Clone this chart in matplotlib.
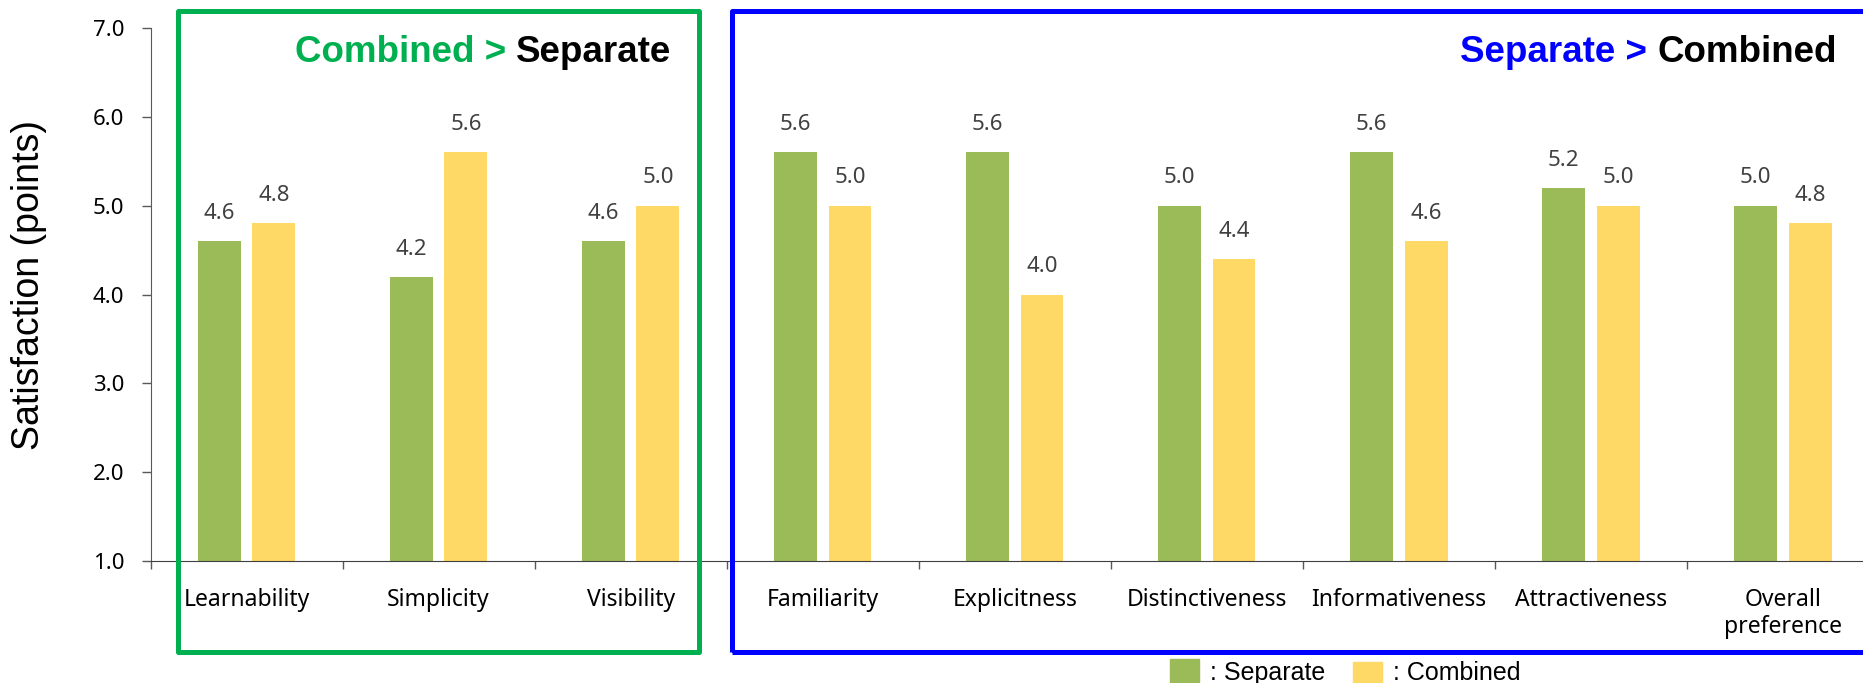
import numpy as np
import matplotlib
matplotlib.use("Agg")
import matplotlib.pyplot as plt
from matplotlib.patches import Rectangle

# data
categories = ["Learnability", "Simplicity", "Visibility", "Familiarity", "Explicitness",
              "Distinctiveness", "Informativeness", "Attractiveness", "Overall\npreference"]
separate = [4.6, 4.2, 4.6, 5.6, 5.6, 5.0, 5.6, 5.2, 5.0]
combined = [4.8, 5.6, 5.0, 5.0, 4.0, 4.4, 4.6, 5.0, 4.8]
yticks = [1.0, 2.0, 3.0, 4.0, 5.0, 6.0, 7.0]

GREEN_BAR = "#9BBB59"
YELLOW_BAR = "#FFD966"
W, H = 1863, 683


def fx(px):
    return px / W


def fy(py):
    return 1 - py / H


fig = plt.figure(figsize=(W / 100, H / 100), dpi=100)
ax = fig.add_axes([fx(150.5), fy(561), 1728.5 / W, 533 / H])

x = np.arange(len(categories))
bw = 0.223
ax.bar(x - 0.142, separate, bw, bottom=0, color=GREEN_BAR, zorder=2)
ax.bar(x + 0.142, combined, bw, bottom=0, color=YELLOW_BAR, zorder=2)

for xi, v in zip(x - 0.142, separate):
    ax.annotate("%.1f" % v, (xi, v), xytext=(0, 16), textcoords="offset points",
                ha="center", va="baseline", fontsize=16, color="#404040", family="Noto Sans")
for xi, v in zip(x + 0.142, combined):
    ax.annotate("%.1f" % v, (xi, v), xytext=(0, 16), textcoords="offset points",
                ha="center", va="baseline", fontsize=16, color="#404040", family="Noto Sans")

ax.set_xlim(-0.5, len(categories) - 0.5)
ax.set_ylim(1.0, 7.0)
ax.set_yticks(yticks)
ax.set_yticklabels(["%.1f" % t for t in yticks], fontsize=16, family="Noto Sans")
ax.set_xticks(x)
ax.set_xticklabels(categories, fontsize=16.5, family="Noto Sans", linespacing=1.15)
ax.set_xticks(np.arange(len(categories) + 1) - 0.5, minor=True)
ax.tick_params(axis="x", which="major", length=0, pad=19.5)
ax.tick_params(axis="x", which="minor", length=6, width=1, color="#595959", direction="out")
ax.tick_params(axis="y", length=6.3, width=1, color="#595959", pad=12.5)
for s in ["top", "right"]:
    ax.spines[s].set_visible(False)
ax.spines["left"].set_color("#595959")
ax.spines["bottom"].set_color("#404040")

fig.text(fx(29), fy(285), "Satisfaction (points)", rotation=90, ha="center", va="center",
         fontsize=27, family="Liberation Sans")

# boxes
fig.patches.append(Rectangle((fx(177.5), fy(652)), fx(698.5) - fx(177.5), fy(11) - fy(652),
                             transform=fig.transFigure, fill=False, ec="#00B050", lw=3.6,
                             joinstyle="round", zorder=10))
fig.patches.append(Rectangle((fx(732), fy(652)), fx(1880) - fx(732), fy(11) - fy(652),
                             transform=fig.transFigure, fill=False, ec="#0000FF", lw=3.6,
                             joinstyle="round", zorder=10))

# group titles: coloured part then black part
title_kw = dict(fontsize=26.5, fontweight="bold", family="Liberation Sans", va="baseline")
t1 = fig.text(fx(295), fy(62), "Combined > ", color="#00B050", **title_kw)
t2 = fig.text(fx(1460), fy(62), "Separate > ", color="#0000FF", **title_kw)
fig.canvas.draw()
r = fig.canvas.get_renderer()
fig.text(t1.get_window_extent(r).x1 / W, fy(62), "Separate", color="black", **title_kw)
fig.text(t2.get_window_extent(r).x1 / W, fy(62), "Combined", color="black", **title_kw)

# legend
fig.patches.append(Rectangle((fx(1170), fy(690)), 29 / W, 31 / H, transform=fig.transFigure,
                             color=GREEN_BAR))
fig.text(fx(1210), fy(680), ": Separate", fontsize=18, family="Liberation Sans", va="baseline")
fig.patches.append(Rectangle((fx(1353), fy(690)), 29 / W, 28 / H, transform=fig.transFigure,
                             color=YELLOW_BAR))
fig.text(fx(1393), fy(680), ": Combined", fontsize=18, family="Liberation Sans", va="baseline")

fig.savefig("out.png", dpi=100)
